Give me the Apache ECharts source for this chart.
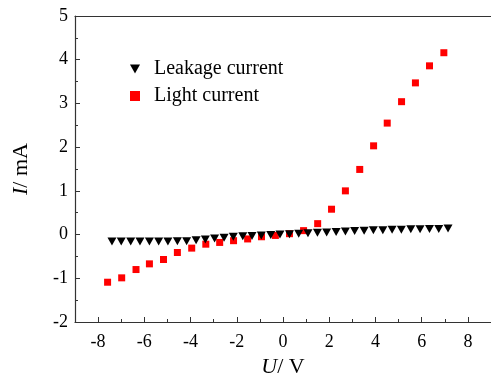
<!DOCTYPE html>
<html>
<head>
<meta charset="utf-8">
<script src="https://cdn.jsdelivr.net/npm/echarts@6/dist/echarts.min.js"></script>
<style>html,body{margin:0;padding:0;background:#fff;}#c{width:491px;height:390px;}</style>
</head>
<body>
<div id="c"></div>
<script>
const leakageU = [-7.40,-7.00,-6.59,-6.19,-5.78,-5.38,-4.98,-4.57,-4.17,-3.76,-3.36,-2.96,-2.55,-2.15,-1.74,-1.34,-0.94,-0.53,-0.13,0.28,0.68,1.08,1.49,1.89,2.30,2.70,3.10,3.51,3.91,4.32,4.72,5.12,5.53,5.93,6.34,6.74,7.14];
const leakageI = [-0.16,-0.16,-0.16,-0.16,-0.16,-0.16,-0.16,-0.15,-0.15,-0.13,-0.11,-0.09,-0.07,-0.05,-0.04,-0.03,-0.02,-0.01,0.00,0.01,0.02,0.03,0.04,0.05,0.06,0.07,0.08,0.09,0.10,0.10,0.11,0.11,0.12,0.12,0.13,0.13,0.14];
const lightU = [-7.59,-6.98,-6.36,-5.78,-5.17,-4.57,-3.95,-3.34,-2.74,-2.14,-1.53,-0.93,-0.33,0.28,0.89,1.50,2.10,2.70,3.32,3.92,4.51,5.13,5.73,6.34,6.96];
const lightI = [-1.09,-0.99,-0.80,-0.67,-0.57,-0.41,-0.31,-0.22,-0.18,-0.14,-0.10,-0.05,-0.02,0.02,0.09,0.25,0.58,1.00,1.49,2.03,2.55,3.04,3.47,3.86,4.16];
const xMajorTicks = [-8,-6,-4,-2,0,2,4,6,8];
const xMinorTicks = [-7,-5,-3,-1,1,3,5,7];
const seriesNames = ['Leakage current','Light current'];

const font = 'Liberation Serif';
const chart = echarts.init(document.getElementById('c'));
const gridBox = {left: 75, top: 16, width: 418, height: 306};
const nameRich = {
  i: {fontFamily: font, fontSize: 22, fontStyle: 'italic', color: '#000'},
  n: {fontFamily: font, fontSize: 22, color: '#000'}
};
chart.setOption({
  animation: false,
  backgroundColor: '#fff',
  textStyle: {fontFamily: font},
  grid: [Object.assign({}, gridBox), Object.assign({}, gridBox)],
  legend: {
    orient: 'vertical', left: 125, top: 54, itemGap: 7,
    itemWidth: 10, itemHeight: 10,
    textStyle: {fontFamily: font, fontSize: 20, color: '#000', padding: [0, 0, 0, 9]},
    data: [
      {name: seriesNames[0], icon: 'path://M0,0 L10,0 L5,9 Z', itemStyle: {color: '#000'}},
      {name: seriesNames[1], icon: 'rect', itemStyle: {color: '#f00'}}
    ]
  },
  xAxis: [
    {
      type: 'value', gridIndex: 0, position: 'bottom', min: -9, max: 9, interval: 1,
      name: '{i|U}{n|/ V}', nameLocation: 'middle', nameGap: 33,
      nameTextStyle: {rich: nameRich},
      axisLine: {show: true, onZero: false, lineStyle: {color: '#333', width: 1.2}},
      axisTick: {show: true, inside: true, length: 5, customValues: xMajorTicks, lineStyle: {color: '#333'}},
      axisLabel: {customValues: xMajorTicks, fontFamily: font, fontSize: 18, color: '#000', margin: 11},
      splitLine: {show: false}
    },
    {
      type: 'value', gridIndex: 0, position: 'top', min: -9, max: 9,
      axisLine: {show: true, onZero: false, lineStyle: {color: '#333', width: 1.2}},
      axisTick: {show: false}, axisLabel: {show: false}, splitLine: {show: false}
    },
    {
      type: 'value', gridIndex: 1, position: 'bottom', min: -9, max: 9,
      axisLine: {show: false, onZero: false},
      axisTick: {show: true, inside: true, length: 3, customValues: xMinorTicks, lineStyle: {color: '#333'}},
      axisLabel: {show: false}, splitLine: {show: false}
    }
  ],
  yAxis: [
    {
      type: 'value', gridIndex: 0, min: -2, max: 5, interval: 1,
      name: '{i|I}{n|/ mA}', nameLocation: 'middle', nameGap: 43, nameRotate: 90,
      nameTextStyle: {rich: nameRich},
      axisLine: {show: true, onZero: false, lineStyle: {color: '#333', width: 1.2}},
      axisTick: {show: true, inside: true, length: 5, lineStyle: {color: '#333'}},
      minorTick: {show: true, splitNumber: 2, length: 3, lineStyle: {color: '#333'}},
      axisLabel: {fontFamily: font, fontSize: 18, color: '#000', margin: 7},
      splitLine: {show: false}
    },
    {
      type: 'value', gridIndex: 1, min: -2, max: 5, show: false,
      axisLine: {onZero: false}
    }
  ],
  series: [
    {
      name: seriesNames[0], type: 'scatter', xAxisIndex: 0, yAxisIndex: 0, z: 3,
      symbol: 'triangle', symbolRotate: 180, symbolSize: [9, 8],
      itemStyle: {color: '#000', opacity: 1},
      data: leakageU.map((u, k) => [u, leakageI[k]])
    },
    {
      name: seriesNames[1], type: 'scatter', xAxisIndex: 0, yAxisIndex: 0, z: 2,
      symbol: 'rect', symbolSize: 7,
      itemStyle: {color: '#f00', opacity: 1},
      data: lightU.map((u, k) => [u, lightI[k]])
    }
  ]
});
</script>
</body>
</html>
